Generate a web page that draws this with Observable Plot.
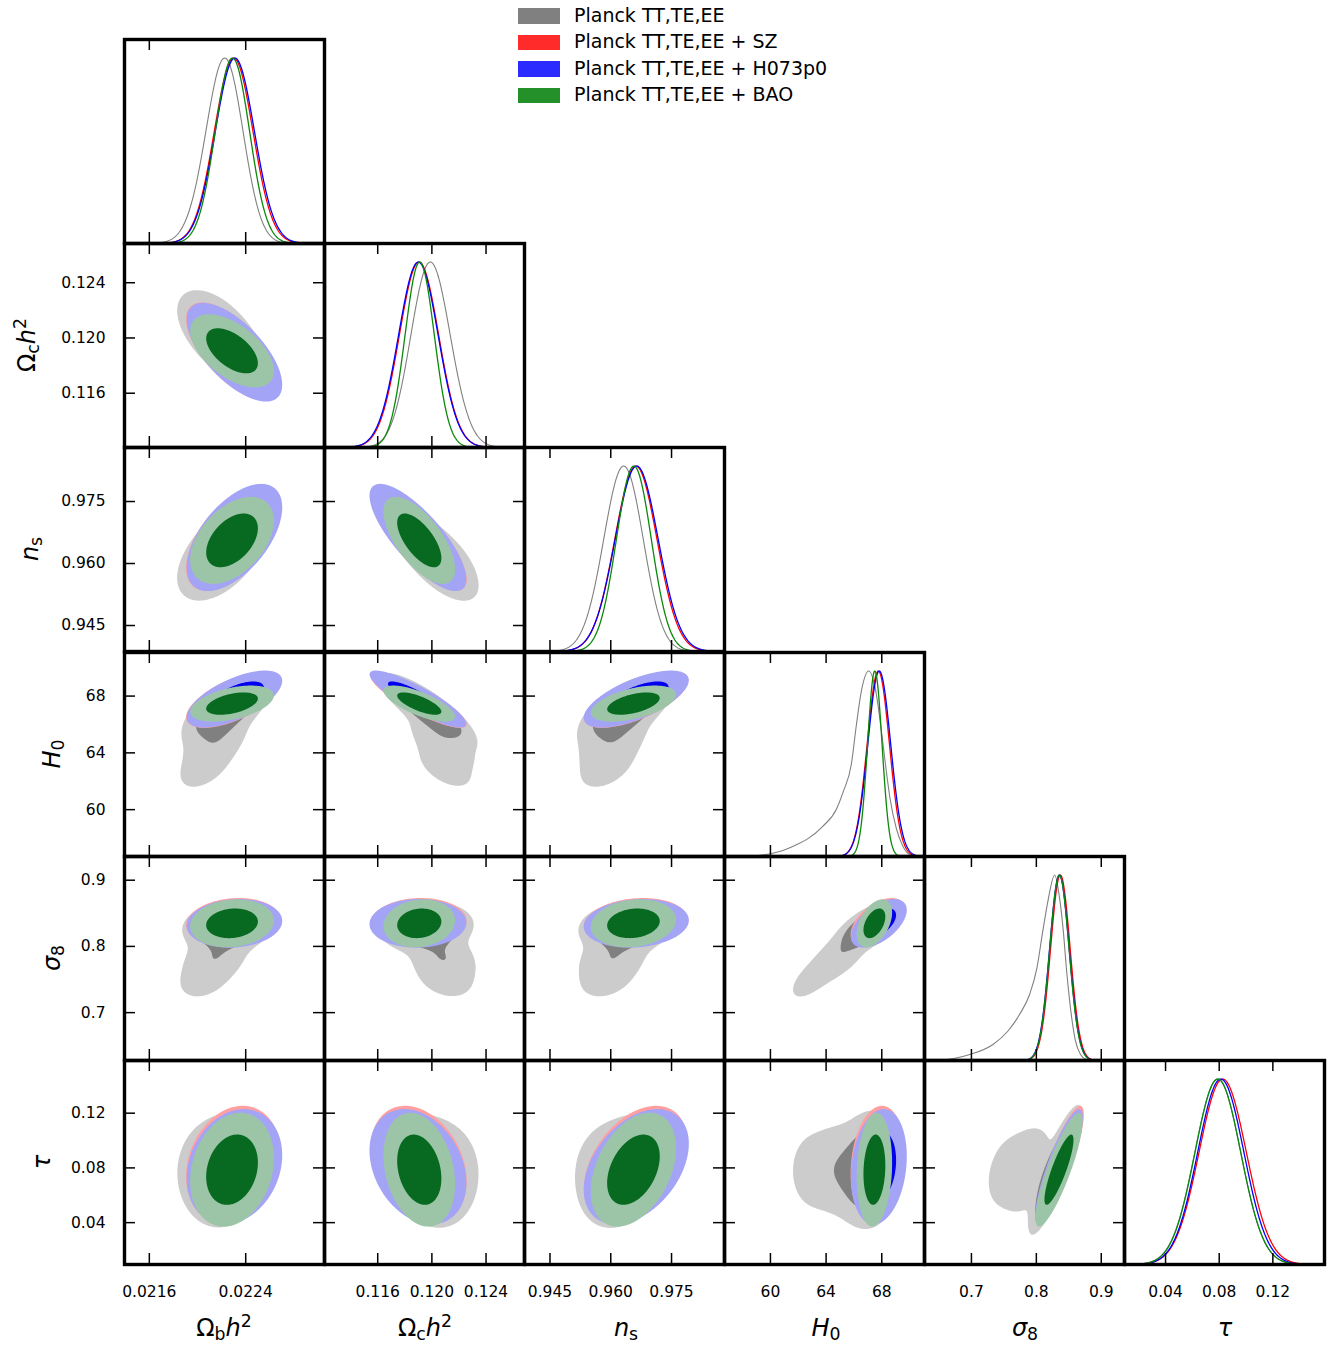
<!DOCTYPE html>
<html>
<head>
<meta charset="utf-8">
<script src="https://cdn.jsdelivr.net/npm/d3@7"></script>
<script src="https://cdn.jsdelivr.net/npm/@observablehq/plot@0.6"></script>
<style>
  body { margin: 0; background: #fff; }
  #root { position: relative; width: 1330px; height: 1346px; font-family: "DejaVu Sans", sans-serif; color: #000; overflow: hidden; }
  .panel { position: absolute; }
  .lab { position: absolute; font-size: 24px; line-height: 1.1; white-space: nowrap; }
  .lab i { font-style: italic; }
  .lab .sb { font-size: 0.72em; position: relative; top: 0.22em; }
  .lab .sp { font-size: 0.72em; position: relative; top: -0.5em; }
  .leg-patch { position: absolute; width: 42px; height: 15.5px; }
  .leg-text { position: absolute; font-size: 19px; line-height: 1; white-space: nowrap; }
</style>
</head>
<body>
<div id="root"></div>
<script>
// ---------------- data ----------------
const paramNames = ["Ωbh²", "Ωch²", "ns", "H0", "σ8", "τ"];
const domains = [[0.021394, 0.023054], [0.11207, 0.12684], [0.93871, 0.98807], [56.70, 71.07], [0.6277, 0.9358], [0.0094, 0.1585]];
const tickValues = [[0.0216, 0.0224], [0.116, 0.120, 0.124], [0.945, 0.960, 0.975], [60, 64, 68], [0.7, 0.8, 0.9], [0.04, 0.08, 0.12]];
const tickLabels = [["0.0216", "0.0224"], ["0.116", "0.120", "0.124"], ["0.945", "0.960", "0.975"], ["60", "64", "68"], ["0.7", "0.8", "0.9"], ["0.04", "0.08", "0.12"]];

const seriesNames = ["Planck TT,TE,EE", "Planck TT,TE,EE + SZ", "Planck TT,TE,EE + H073p0", "Planck TT,TE,EE + BAO"];
const legendColors = ["#808080", "#ff2b2b", "#2b2bff", "#24902a"];
const lineColors = ["#808080", "#ff0000", "#0000ff", "#0a880a"];
const outerColors = ["#cccccc", "#ff9f9f", "#a4a4f6", "#9cc5a8"];
const innerColors = ["#808080", "#ff1010", "#0000ee", "#076a20"];

// parameter pairs order for correlation coefficients
const pairs = [[0,1],[0,2],[0,3],[0,4],[0,5],[1,2],[1,3],[1,4],[1,5],[2,3],[2,4],[2,5],[3,4],[3,5],[4,5]];

// Planck TT,TE,EE (grey) : main peak plus a tail toward low H0 / low sigma8
const greyWeights = [0.75, 0.18, 0.07];
const meanGreyA = [0.02225, 0.11962, 0.9640, 67.15, 0.830, 0.0790];
const sdGreyA   = [0.000145, 0.00135, 0.0046, 0.95, 0.0148, 0.0170];
const meanGreyB = [0.02216, 0.1208, 0.9608, 65.0, 0.787, 0.0790];
const sdGreyB   = [0.00014, 0.0013, 0.0045, 1.1, 0.021, 0.0170];
const meanGreyC = [0.02205, 0.1210, 0.9590, 62.9, 0.750, 0.0780];
const sdGreyC   = [0.00014, 0.0014, 0.0045, 1.0, 0.020, 0.0180];
const rhoGreyMain = [-0.60, 0.50, 0.62, 0.10, 0.15, -0.75, -0.82, 0.10, -0.25, 0.62, 0.12, 0.35, 0.60, 0.10, 0.85];
const rhoGreyTail = [-0.45, 0.40, 0.45, 0.30, 0.00, -0.55, -0.55, -0.30, 0.00, 0.45, 0.30, 0.00, 0.60, 0.00, 0.35];
// grey 1D marginals of H0 and sigma8 (read point by point)
const greyH0X = [57.5, 59.0, 60.0, 60.67, 61.87, 62.59, 63.78, 64.74, 65.22, 65.82, 66.18, 66.54, 67.06, 67.55, 68.0, 68.26, 68.6, 69.05, 69.4, 69.77, 70.2, 70.6];
const greyH0Y = [0, 0.004, 0.015, 0.027, 0.064, 0.091, 0.164, 0.255, 0.347, 0.5, 0.712, 0.894, 1, 0.9, 0.66, 0.5, 0.31, 0.15, 0.075, 0.025, 0.006, 0];
const greyS8X = [0.63, 0.6512, 0.6974, 0.7332, 0.7563, 0.7743, 0.7897, 0.8010, 0.8092, 0.8179, 0.8282, 0.8360, 0.8420, 0.8462, 0.8520, 0.8600, 0.8680, 0.8760, 0.8850];
const greyS8Y = [0, 0.002, 0.032, 0.086, 0.159, 0.249, 0.357, 0.501, 0.681, 0.861, 1, 0.87, 0.68, 0.5, 0.30, 0.11, 0.032, 0.007, 0];

// + SZ (red)
const meanRed = [0.02230, 0.11905, 0.9662, 67.75, 0.8370, 0.0826];
const sdRed   = [0.000160, 0.00145, 0.0052, 0.80, 0.0150, 0.0176];
const rhoRed  = [-0.66, 0.56, 0.62, 0.12, 0.20, -0.78, -0.86, 0.05, -0.28, 0.65, 0.15, 0.40, 0.50, 0.15, 0.85];
// + H073p0 (blue)
const meanBlue = [0.02231, 0.11900, 0.9664, 67.82, 0.8355, 0.0812];
const sdBlue   = [0.000162, 0.00146, 0.0053, 0.82, 0.0150, 0.0172];
const rhoBlue  = [-0.66, 0.56, 0.64, 0.10, 0.20, -0.78, -0.87, 0.03, -0.28, 0.66, 0.13, 0.40, 0.55, 0.18, 0.85];
// + BAO (green)
const meanGreen = [0.02229, 0.11910, 0.9657, 67.50, 0.8355, 0.0790];
const sdGreen   = [0.000142, 0.00108, 0.0043, 0.52, 0.0148, 0.0170];
const rhoGreen  = [-0.55, 0.45, 0.45, 0.12, 0.20, -0.66, -0.72, 0.12, -0.25, 0.50, 0.15, 0.38, 0.45, 0.12, 0.85];

// ---------------- models ----------------
const models = [
  [{w: greyWeights[0], mean: meanGreyA, sd: sdGreyA, rho: rhoGreyMain},
   {w: greyWeights[1], mean: meanGreyB, sd: sdGreyB, rho: rhoGreyTail},
   {w: greyWeights[2], mean: meanGreyC, sd: sdGreyC, rho: rhoGreyTail}],
  [{w: 1, mean: meanRed, sd: sdRed, rho: rhoRed}],
  [{w: 1, mean: meanBlue, sd: sdBlue, rho: rhoBlue}],
  [{w: 1, mean: meanGreen, sd: sdGreen, rho: rhoGreen}]
];
function pairIndex(a, b) {
  const lo = Math.min(a, b), hi = Math.max(a, b);
  return pairs.findIndex(p => p[0] === lo && p[1] === hi);
}
function density1D(model, p, x) {
  let s = 0;
  for (const c of model) { const z = (x - c.mean[p]) / c.sd[p]; s += c.w * Math.exp(-0.5 * z * z) / c.sd[p]; }
  return s;
}
function density2D(model, px, py, x, y) {
  const k = pairIndex(px, py);
  let s = 0;
  for (const c of model) {
    const r = c.rho[k], zx = (x - c.mean[px]) / c.sd[px], zy = (y - c.mean[py]) / c.sd[py];
    const q = (zx * zx - 2 * r * zx * zy + zy * zy) / (1 - r * r);
    s += c.w * Math.exp(-0.5 * q) / (c.sd[px] * c.sd[py] * Math.sqrt(1 - r * r));
  }
  return s;
}
const NG = 240;
function grid(model, px, py) {
  const [x0, x1] = domains[px], [y0, y1] = domains[py];
  const vals = new Float64Array(NG * NG);
  for (let b = 0; b < NG; b++) {
    const y = y0 + (b + 0.5) * (y1 - y0) / NG;
    for (let a = 0; a < NG; a++) {
      const x = x0 + (a + 0.5) * (x1 - x0) / NG;
      vals[a + b * NG] = density2D(model, px, py, x, y);
    }
  }
  return vals;
}
function levels(vals) {
  const sorted = Float64Array.from(vals).sort();
  let tot = 0; for (const v of sorted) tot += v;
  let cum = 0, t68 = null, t95 = null;
  for (let i = sorted.length - 1; i >= 0; i--) {
    cum += sorted[i];
    if (t68 === null && cum >= 0.68 * tot) t68 = sorted[i];
    if (cum >= 0.95 * tot) { t95 = sorted[i]; break; }
  }
  return [t68, t95];
}
// contour rings (in data coordinates) built with d3.contours
function rings(vals, px, py, t) {
  const [x0, x1] = domains[px], [y0, y1] = domains[py];
  const c = d3.contours().size([NG, NG]).thresholds([t])(vals)[0];
  const out = [];
  let id = 0;
  for (const poly of c.coordinates) {
    for (const ring of poly) {
      id++;
      for (const [gx, gy] of ring) out.push({ring: id, x: x0 + (gx - 0.5) * (x1 - x0) / NG, y: y0 + (gy - 0.5) * (y1 - y0) / NG});
    }
  }
  return out;
}
function curve1D(s, p) {
  if (s === 0 && p === 3) return greyH0X.map((x, i) => ({x, y: greyH0Y[i]}));
  if (s === 0 && p === 4) return greyS8X.map((x, i) => ({x, y: greyS8Y[i]}));
  const [a, b] = domains[p], n = 400, out = [];
  for (let i = 0; i <= n; i++) { const x = a + (b - a) * i / n; out.push({x, y: density1D(models[s], p, x)}); }
  const m = d3.max(out, d => d.y);
  out.forEach(d => d.y /= m);
  return out;
}

// ---------------- layout ----------------
const root = document.getElementById("root");
const PW = 200, PH = 204, TL = 11;
const lefts = [124, 324, 524, 724, 924, 1124];
const tops = [39, 243, 447, 652, 856, 1060];

for (let i = 0; i < 6; i++) {
  for (let j = 0; j <= i; j++) {
    const ml = j === 0 ? 124 : 0, mb = i === 5 ? 90 : 0;
    const marks = [];
    if (i === j) {
      models.forEach((m, s) => {
        const special = s === 0 && (j === 3 || j === 4);
        marks.push(Plot.line(curve1D(s, j), {x: "x", y: "y", stroke: lineColors[s], strokeWidth: s === 0 ? 1.1 : 1.3, curve: special ? "monotone-x" : "linear"}));
      });
    } else {
      models.forEach((m, s) => {
        const vals = grid(m, j, i);
        const [t68, t95] = levels(vals);
        marks.push(Plot.line(rings(vals, j, i, t95), {x: "x", y: "y", z: "ring", fill: outerColors[s], stroke: "none"}));
        marks.push(Plot.line(rings(vals, j, i, t68), {x: "x", y: "y", z: "ring", fill: innerColors[s], stroke: "none"}));
      });
    }
    const tk = {stroke: "black", strokeWidth: 1.5};
    marks.push(Plot.tickX(tickValues[j], {x: d => d, insetTop: PH - TL, ...tk}));
    marks.push(Plot.tickX(tickValues[j], {x: d => d, insetBottom: PH - TL, ...tk}));
    if (i !== j) {
      marks.push(Plot.tickY(tickValues[i], {y: d => d, insetRight: PW - TL, ...tk}));
      marks.push(Plot.tickY(tickValues[i], {y: d => d, insetLeft: PW - TL, ...tk}));
    }
    const showX = i === 5, showY = j === 0 && i > 0;
    if (showX) marks.push(Plot.axisX(tickValues[j], {anchor: "bottom", tickSize: 0, tickPadding: 21, label: null,
      tickFormat: d => tickLabels[j][tickValues[j].indexOf(d)]}));
    if (showY) marks.push(Plot.axisY(tickValues[i], {anchor: "left", tickSize: 0, tickPadding: 19, label: null,
      tickFormat: d => tickLabels[i][tickValues[i].indexOf(d)]}));
    marks.push(Plot.frame({stroke: "black", strokeWidth: 3.4}));

    const svg = Plot.plot({
      width: PW + ml, height: PH + mb,
      marginLeft: ml, marginRight: 0, marginTop: 0, marginBottom: mb,
      x: {domain: domains[j], ...(showX ? {} : {axis: null})},
      y: {domain: i === j ? [0, 1.1] : domains[i], ...(showY ? {} : {axis: null})},
      style: {overflow: "visible", fontFamily: "DejaVu Sans", fontSize: "15.5px", background: "transparent", color: "black", maxWidth: "none"},
      marks
    });
    const div = document.createElement("div");
    div.className = "panel";
    div.style.left = (lefts[j] - ml) + "px";
    div.style.top = tops[i] + "px";
    div.style.width = (PW + ml) + "px";
    div.appendChild(svg);
    root.appendChild(div);
  }
}

// axis titles
const bottomTitles = [
  'Ω<span class="sb">b</span><i>h</i><span class="sp">2</span>',
  'Ω<span class="sb">c</span><i>h</i><span class="sp">2</span>',
  '<i>n</i><span class="sb">s</span>',
  '<i>H</i><span class="sb">0</span>',
  '<i>σ</i><span class="sb">8</span>',
  '<i>τ</i>'
];
const bottomCenters = [224, 425, 626, 826, 1025, 1225];
bottomTitles.forEach((t, j) => {
  const d = document.createElement("div");
  d.className = "lab"; d.innerHTML = t;
  d.style.left = bottomCenters[j] + "px"; d.style.top = "1315px";
  d.style.transform = "translateX(-50%)";
  root.appendChild(d);
});
const leftCenters = [null, [27, 345], [30, 549], [52, 754], [52, 958], [42, 1162]];
for (let i = 1; i < 6; i++) {
  const d = document.createElement("div");
  d.className = "lab"; d.innerHTML = bottomTitles[i];
  d.style.left = leftCenters[i][0] + "px"; d.style.top = leftCenters[i][1] + "px";
  d.style.transform = "translate(-50%, -50%) rotate(-90deg)";
  root.appendChild(d);
}

// legend
const legTops = [8, 34.5, 61, 87.5];
seriesNames.forEach((name, s) => {
  const p = document.createElement("div");
  p.className = "leg-patch";
  p.style.left = "518px"; p.style.top = legTops[s] + "px"; p.style.background = legendColors[s];
  root.appendChild(p);
  const t = document.createElement("div");
  t.className = "leg-text"; t.textContent = name;
  t.style.left = "574px"; t.style.top = (legTops[s] - 2.5) + "px";
  root.appendChild(t);
});
</script>
</body>
</html>
